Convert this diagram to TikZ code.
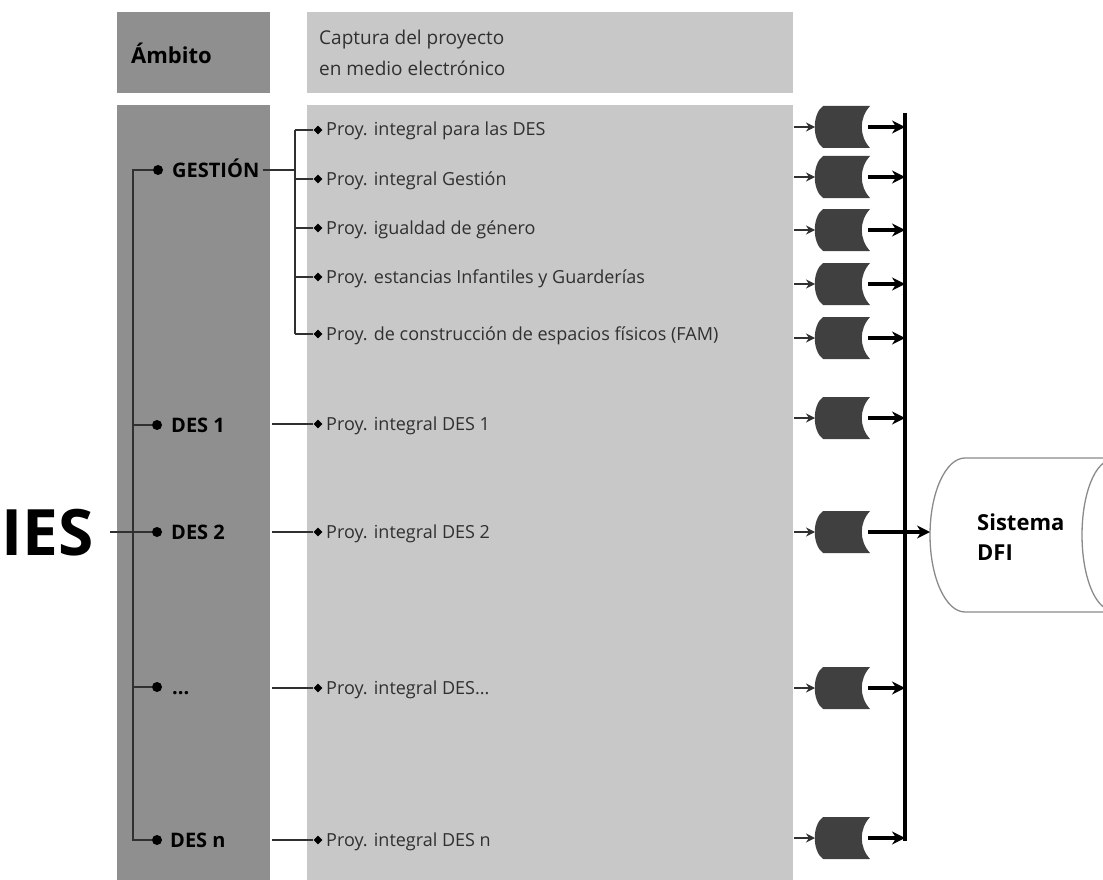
\documentclass[tikz,border=0pt]{standalone}
\usepackage{fontspec}
\setmainfont{Open Sans}
\usetikzlibrary{arrows.meta,shapes.geometric}
\definecolor{colL}{HTML}{8F8F8F}
\definecolor{colR}{HTML}{C8C8C8}
\definecolor{gateC}{HTML}{404040}
\definecolor{txt}{HTML}{303030}
\definecolor{cylC}{HTML}{8A8A8A}
\begin{document}
\begin{tikzpicture}[x=1pt,y=-1pt,
  conn/.style={draw=txt, line width=1.2pt},
  bul/.style={circle, fill=black, inner sep=0pt, minimum size=10pt},
  dia/.style={diamond, fill=black, inner sep=0pt, minimum size=9pt},
  item/.style={anchor=base west, inner sep=0pt, font=\fontsize{18}{20}\selectfont, text=txt},
  lab/.style={anchor=base west, inner sep=0pt, font=\bfseries\fontsize{20}{22}\selectfont},
  box/.style={anchor=north west, inner sep=0pt, outer sep=0pt},
  gbox/.style={minimum width=55pt, minimum height=42pt, inner sep=0pt, outer sep=0pt},
  thinarr/.style={-{Stealth[length=9pt,width=9pt]}, line width=1.3pt, draw=txt},
  thickarr/.style={-{Stealth[length=13pt,width=13pt]}, line width=3.5pt},
]
\useasboundingbox (0,0) rectangle (1103,880);
% headers and columns
\node[box, fill=colL, minimum width=153pt, minimum height=81pt] (hA) at (117,12) {};
\node[box, fill=colR, minimum width=486pt, minimum height=81pt] (hC) at (307,12) {};
\node[box, fill=colL, minimum width=153pt, minimum height=775pt] (lcol) at (117,105) {};
\node[box, fill=colR, minimum width=486pt, minimum height=775pt] (rcol) at (307,105) {};
\node[anchor=base west, inner sep=0pt, font=\bfseries\fontsize{22}{24}\selectfont] (tA) at (131,64) {Ámbito};
\node[anchor=base west, inner sep=0pt, font=\fontsize{19}{31}\selectfont, text=txt, align=left] (tC) at (319,76) {Captura del proyecto\\en medio electrónico};

% IES
\node[anchor=base west, inner sep=0pt, font=\bfseries\fontsize{64}{64}\selectfont] (ies) at (1,555) {IES};
\coordinate (iesout) at (110,532);

% left bullets and labels
\coordinate (tr) at (133,0);
\node[bul] (b1) at (158,170) {};
\node[bul] (b2) at (157,425) {};
\node[bul] (b3) at (157,532) {};
\node[bul] (b4) at (157,687) {};
\node[bul] (b5) at (157,840) {};
\node[lab] (l1) at (172,177) {GESTIÓN};
\node[lab] (l2) at (171,432) {DES 1};
\node[lab] (l3) at (171,539) {DES 2};
\node[lab] (l4) at (172,694) {...};
\node[lab] (l5) at (170,847) {DES n};

\draw[conn] (b1) -| (tr |- b5) -- (b5);
\draw[conn] (tr |- b2) -- (b2);
\draw[conn] (tr |- b4) -- (b4);
\draw[conn] (iesout) -- (b3);

% right items
\foreach \n/\y/\t in {1/130/{Proy. integral para las DES},
                      2/179/{Proy. integral Gestión},
                      3/228/{Proy. igualdad de género},
                      4/277/{Proy. estancias Infantiles y Guarderías},
                      5/334/{Proy. de construcción de espacios físicos (FAM)},
                      6/424/{Proy. integral DES 1},
                      7/532/{Proy. integral DES 2},
                      8/688/{Proy. integral DES...},
                      9/840/{Proy. integral DES n}}{
  \node[dia] (d\n) at (318,\y) {};
  \node[item] (t\n) at (326,\y+6) {\t};
}
\coordinate (br) at (295,0);
\draw[conn] ([xshift=4pt]l1.east |- b1) -- (br |- b1);
\draw[conn] (br |- d1) -- (br |- d5);
\foreach \n in {1,...,5}{ \draw[conn] (br |- d\n) -- (d\n); }
\draw[conn] ([xshift=2pt]lcol.east |- d6) -- (d6);
\draw[conn] ([xshift=2pt]lcol.east |- d7) -- (d7);
\draw[conn] ([xshift=2pt]lcol.east |- d8) -- (d8);
\draw[conn] ([xshift=2pt]lcol.east |- d9) -- (d9);

% bus
\coordinate (busT) at (905,113);
\coordinate (busB) at (905,841);
\draw[line width=4pt] (busT) -- (busB);

% cylinder
\node[minimum width=173pt, minimum height=154pt, inner sep=0pt, outer sep=0pt, anchor=west] (cyl) at (930,535) {};
\begin{scope}
\clip (0,0) rectangle (1103,880);
\draw[cylC, line width=1.3pt, fill=white]
  (1120,458) -- (965,458) .. controls (945.7,458) and (930,492.5) .. (930,535)
  .. controls (930,577.5) and (945.7,612) .. (965,612) -- (1120,612);
\draw[cylC, line width=1.3pt]
  (1112,460) .. controls (1095.4,460) and (1082,493.6) .. (1082,535)
  .. controls (1082,576.4) and (1095.4,610) .. (1112,610);
\end{scope}
\node[anchor=base west, inner sep=0pt, font=\bfseries\fontsize{22}{30}\selectfont, align=left] (sys) at (977,560) {Sistema\\DFI};

% gates
\foreach \n/\y in {1/127,2/177,3/230,4/284,5/338,6/418,7/532,8/688,9/838}{
  \node[gbox] (g\n) at (842.5,\y) {};
  \fill[gateC] (823,\y-21) -- (870,\y-21)
     .. controls (859,\y-9) and (859,\y+9) .. (870,\y+21)
     -- (823,\y+21) .. controls (812,\y+13) and (812,\y-13) .. (823,\y-21) -- cycle;
  \draw[thinarr] ([xshift=1pt]rcol.east |- g\n) -- (g\n.west);
}
\foreach \n in {1,2,3,4,5,6,8,9}{
  \draw[thickarr] ([xshift=-2pt]g\n.east) -- (busT |- g\n);
}
\draw[thickarr] ([xshift=-2pt]g7.east) -- (cyl.west |- g7);
\end{tikzpicture}
\end{document}
